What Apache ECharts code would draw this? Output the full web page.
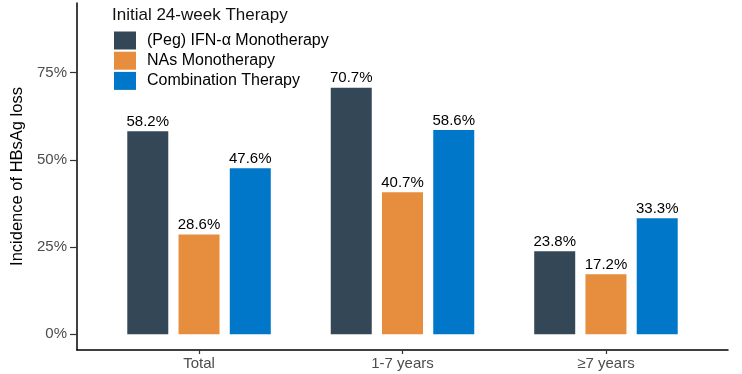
<!DOCTYPE html>
<html>
<head>
<meta charset="utf-8">
<script src="https://cdn.jsdelivr.net/npm/echarts@6/dist/echarts.min.js"></script>
<style>
html,body{margin:0;padding:0;background:#fff;}
#chart{width:742px;height:374px;}
</style>
</head>
<body>
<div id="chart"></div>
<script>
var categories = ['Total', '1-7 years', '\u22657 years'];
var seriesNames = ['(Peg) IFN-\u03b1 Monotherapy', 'NAs Monotherapy', 'Combination Therapy'];
var ifnValues = [58.2, 70.7, 23.8];
var nasValues = [28.6, 40.7, 17.2];
var comboValues = [47.6, 58.6, 33.3];
var yTicks = [0, 25, 50, 75];
var legendTitle = 'Initial 24-week Therapy';
var yTitle = 'Incidence of HBsAg loss';
var colors = ['#344756', '#E68E3D', '#0077C8'];

var FONT = '"Liberation Sans", Arial, sans-serif';
var chart = echarts.init(document.getElementById('chart'));

var catPositions = categories.map(function (c, i) { return i + 1; });

function barSeries(name, values, color) {
  return {
    type: 'bar',
    name: name,
    xAxisIndex: 1,
    yAxisIndex: 1,
    data: values,
    barWidth: 41,
    barGap: '25%',
    itemStyle: { color: color },
    label: {
      show: true,
      position: 'top',
      distance: 2,
      formatter: function (p) { return p.value.toFixed(1) + '%'; },
      color: '#000',
      fontSize: 15,
      fontFamily: FONT
    }
  };
}

chart.setOption({
  animation: false,
  backgroundColor: '#fff',
  title: {
    text: legendTitle,
    left: 107,
    top: 2,
    textStyle: { fontSize: 17, fontWeight: 'normal', color: '#111', fontFamily: FONT }
  },
  legend: {
    orient: 'vertical',
    left: 109,
    top: 26.5,
    itemWidth: 22,
    itemHeight: 18,
    itemGap: 2.2,
    icon: 'rect',
    data: seriesNames,
    textStyle: { fontSize: 16, color: '#000', fontFamily: FONT, padding: [0, 0, 0, 6] }
  },
  grid: [
    { left: 77, right: 14, top: 3, bottom: 24 },
    { left: 97.3, right: 34.3, top: 3, bottom: 24 }
  ],
  xAxis: [
    {
      gridIndex: 0,
      type: 'value',
      min: 0.4,
      max: 3.6,
      splitLine: { show: false },
      axisLine: { show: true, onZero: false, lineStyle: { color: '#000', width: 1.5 } },
      axisTick: { show: true, length: 4, customValues: catPositions, lineStyle: { color: '#333', width: 1.2 } },
      axisLabel: {
        customValues: catPositions,
        margin: 6,
        fontSize: 15,
        color: '#4D4D4D',
        fontFamily: FONT,
        formatter: function (v) { return categories[Math.round(v) - 1] || ''; }
      }
    },
    {
      gridIndex: 1,
      type: 'category',
      data: categories,
      show: false
    }
  ],
  yAxis: [
    {
      gridIndex: 0,
      type: 'value',
      min: -4.5,
      max: 95,
      name: yTitle,
      nameLocation: 'middle',
      nameGap: 50,
      nameTextStyle: { fontSize: 16.5, color: '#000', fontFamily: FONT },
      splitLine: { show: false },
      axisLine: { show: true, onZero: false, lineStyle: { color: '#000', width: 1.5 } },
      axisTick: { show: true, length: 7, customValues: yTicks, lineStyle: { color: '#333', width: 1.2 } },
      axisLabel: {
        customValues: yTicks,
        margin: 10,
        fontSize: 15,
        color: '#4D4D4D',
        fontFamily: FONT,
        formatter: function (v) { return v + '%'; }
      }
    },
    {
      gridIndex: 1,
      type: 'value',
      min: -4.5,
      max: 95,
      show: false,
      splitLine: { show: false }
    }
  ],
  series: [
    barSeries(seriesNames[0], ifnValues, colors[0]),
    barSeries(seriesNames[1], nasValues, colors[1]),
    barSeries(seriesNames[2], comboValues, colors[2])
  ]
});
</script>
</body>
</html>
